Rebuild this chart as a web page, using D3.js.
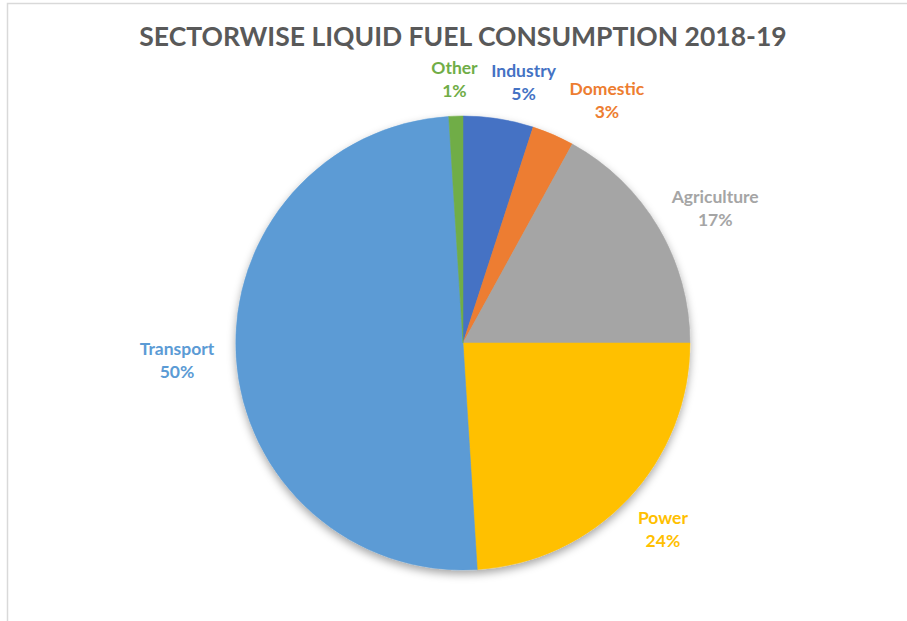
<!DOCTYPE html>
<html>
<head>
<meta charset="utf-8">
<script src="https://cdn.jsdelivr.net/npm/d3@7"></script>
<style>
  html, body { margin: 0; padding: 0; background: #fff; }
  svg { display: block; }
</style>
</head>
<body>
<script>
// Sector shares of liquid fuel consumption, clockwise from 12 o'clock
const sectors = ["Industry", "Domestic", "Agriculture", "Power", "Transport", "Other"];
const shares = [5, 3, 17, 24, 50, 1];
const colors = ["#4472C4", "#ED7D31", "#A5A5A5", "#FFC000", "#5B9BD5", "#70AD47"];
const title = "SECTORWISE LIQUID FUEL CONSUMPTION 2018-19";

const W = 907, H = 621;
const cx = 463, cy = 343, R = 227;

const svg = d3.select("body").append("svg")
  .attr("width", W).attr("height", H);

// chart frame (top and left edges visible)
svg.append("path")
  .attr("d", `M7.5,${H} V3.5 H${W}`)
  .attr("fill", "none")
  .attr("stroke", "#d9d9d9")
  .attr("stroke-width", 1.5);

const defs = svg.append("defs");
const f = defs.append("filter").attr("id", "pieShadow")
  .attr("x", "-20%").attr("y", "-20%").attr("width", "140%").attr("height", "140%");
f.append("feDropShadow")
  .attr("dx", 0).attr("dy", 4)
  .attr("stdDeviation", 4)
  .attr("flood-color", "#000")
  .attr("flood-opacity", 0.35);

svg.append("text")
  .attr("x", 463).attr("y", 46)
  .attr("text-anchor", "middle")
  .attr("font-family", "Lato, 'Open Sans', sans-serif")
  .attr("font-weight", "bold")
  .attr("font-size", 26.5)
  .attr("fill", "#595959")
  .text(title);

const data = sectors.map((s, i) => ({ name: s, value: shares[i], color: colors[i] }));

const pie = d3.pie().value(d => d.value).sort(null);
const arcs = pie(data);
const arc = d3.arc().innerRadius(0).outerRadius(R);

const g = svg.append("g").attr("transform", `translate(${cx},${cy})`);

g.append("g").attr("filter", "url(#pieShadow)")
  .selectAll("path")
  .data(arcs)
  .join("path")
  .attr("d", arc)
  .attr("fill", d => d.data.color)
  .attr("stroke", d => d.data.color)
  .attr("stroke-width", 0.5);

// Labels placed outside the pie, box pushed away from the rim along the slice bisector
const gap = 22, lineH = 23, fs = 17.5, minSep = 13;
const labels = g.append("g")
  .attr("font-family", "Lato, 'Open Sans', sans-serif")
  .attr("font-weight", "bold")
  .attr("font-size", fs);

const placed = arcs.map(a => {
  const mid = (a.startAngle + a.endAngle) / 2;
  const sx = Math.sin(mid), sy = -Math.cos(mid);
  const ax = (R + gap) * sx, ay = (R + gap) * sy;
  const t = labels.append("text")
    .attr("text-anchor", "middle")
    .attr("fill", a.data.color);
  t.append("tspan").attr("x", 0).attr("dy", 0).text(a.data.name);
  t.append("tspan").attr("x", 0).attr("dy", lineH).text(d3.format(".0%")(a.data.value / 100));
  const w = t.node().getBBox().width, h = 46;
  const bx = ax + (w / 2) * sx;
  const by = ay + (h / 2) * sy + 8 * Math.max(0, -sy);
  return { t, w, x: bx, y: by };
});

// push neighbouring labels apart so none overlap
placed.sort((p, q) => p.x - q.x);
for (let i = 1; i < placed.length; i++) {
  for (let j = 0; j < i; j++) {
    const p = placed[j], q = placed[i];
    if (Math.abs(p.y - q.y) < 40) {
      const need = p.x + p.w / 2 + minSep + q.w / 2;
      if (q.x < need) q.x = need;
    }
  }
}

placed.forEach(p => p.t.attr("transform", `translate(${p.x},${p.y - lineH / 2 + 6})`));
</script>
</body>
</html>
